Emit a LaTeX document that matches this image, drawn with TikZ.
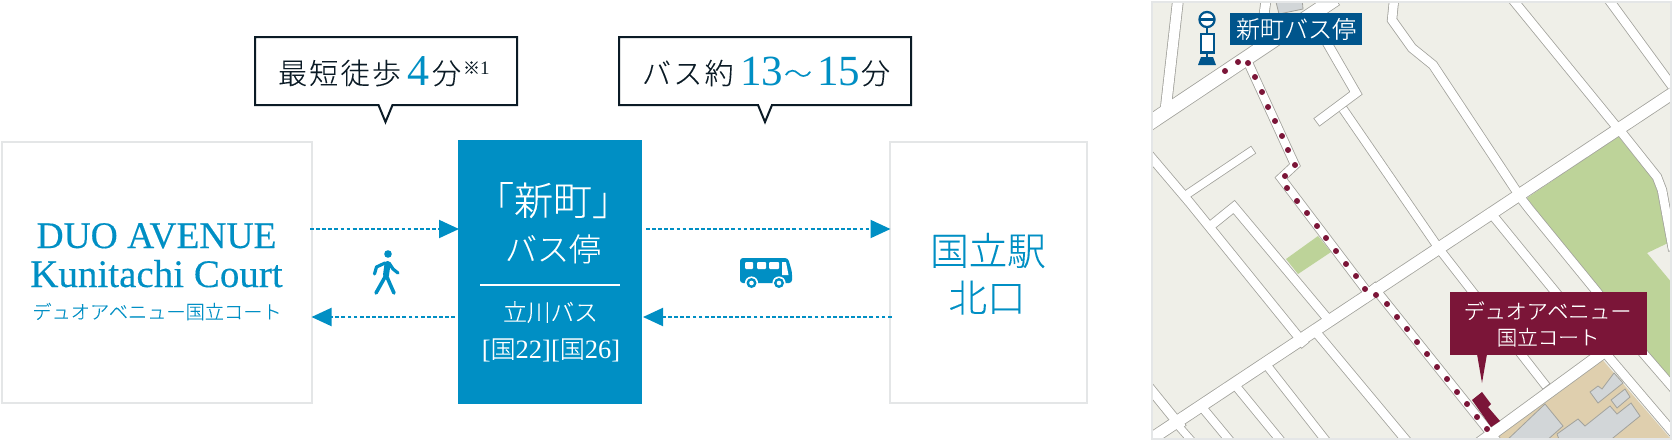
\documentclass[tikz,border=0pt]{standalone}
\usepackage{fontspec}
\usetikzlibrary{arrows.meta}
\setmainfont{Liberation Serif}
\newfontfamily\jp[FakeBold=0.12]{Noto Sans CJK JP Light}
\definecolor{kblue}{HTML}{008FC4}
\definecolor{kdark}{HTML}{0B1B26}
\definecolor{kline}{HTML}{E4E6E7}
\definecolor{kmap}{HTML}{EFEFE8}
\definecolor{kedge}{HTML}{A2A29C}
\definecolor{kgreen}{HTML}{BDD399}
\definecolor{kbeige}{HTML}{DFCFAE}
\definecolor{kbldg}{HTML}{D2D6D8}
\definecolor{kbus}{HTML}{00558C}
\definecolor{kmaroon}{HTML}{7B1538}
\newcommand\fs[1]{\fontsize{#1}{#1}\selectfont}
\newcommand\rd[2]{\draw[line width=#1pt+\rdextra pt,rdcur] #2;}
\newcommand\allroads{%
\rd{14}{(1148,124)--(1335,-1)}
\rd{10}{(1178,0)--(1165,115)}
\rd{9}{(1266,0)--(1262,30)}
\rd{8.5}{(1315,22)--(1356,93)--(1317,122)}
\rd{8}{(1343,109)--(1440,250)--(1546,386)}
\rd{8.5}{(1394,0)--(1392,20)--(1412,48)--(1433,65)--(1523,201)--(1530,210)--(1597,292)--(1643,353)--(1675,390)}
\rd{8.5}{(1513,0)--(1615,125)--(1622,133)--(1657,177)--(1662,190)--(1673,250)}
\rd{8.5}{(1609,0)--(1672,86)}
\rd{11.5}{(1148,441)--(1676,91)}
\rd{8.5}{(1490,212)--(1530,261)--(1607,355)--(1676,436)}
\rd{11}{(1470,450)--(1604,352)}
\rd{8.5}{(1145,150)--(1190,203)--(1305,345)}
\rd{7.5}{(1186,195)--(1253,150)}
\rd{8.5}{(1208,228)--(1234,207)--(1332,324)}
\rd{8.5}{(1315,331)--(1410,445)}
\rd{8}{(1265,363)--(1330,446)}
\rd{8}{(1235,385)--(1285,446)}
\rd{8}{(1201,406)--(1235,447)}
\rd{7}{(1175,422)--(1197,447)}
\rd{9}{(1148,386)--(1182,428)}
\rd{8}{(1246,58)--(1295,165)--(1281,178)--(1372,298)}
\rd{8}{(1372,285)--(1500,445)}
}
\tikzset{
  flow/.style={draw=kblue,line width=2pt,dash pattern=on 3.8pt off 2.3pt,-{Triangle[length=20pt,width=18pt,fill=kblue]}},
  whitebox/.style={draw=kline,line width=2pt,fill=white,inner sep=0,outer sep=1pt},
  txt/.style={inner sep=0,outer sep=0,anchor=base},
  txtw/.style={inner sep=0,outer sep=0,anchor=base west},
  callout/.style={draw=kdark,line width=2pt,fill=white,line join=miter},
  rdcasing/.style={kedge,line join=miter,shorten <=-.8pt,shorten >=-.8pt},
  rdfill/.style={white,line join=miter},
}
\begin{document}
\begin{tikzpicture}[x=1pt,y=-1pt]
\useasboundingbox (0,0) rectangle (1672,440);
\fill[white] (0,0) rectangle (1672,440);
\coordinate (toprow) at (0,229);
\coordinate (botrow) at (0,317);
% boxes
\node[whitebox,minimum width=309.5pt,minimum height=261pt] (duo) at (156.75,272) {};
\node[fill=kblue,inner sep=0,outer sep=0,minimum width=184pt,minimum height=264pt] (stop) at (550,272) {};
\node[whitebox,minimum width=197pt,minimum height=261pt] (station) at (988,272) {};
% callouts
\draw[callout] (255,37)--(517,37)--(517,105)--(392.5,105)--(385.5,122)--(378.5,105)--(255,105)--cycle;
\draw[callout] (619,37)--(911,37)--(911,105)--(772,105)--(765,122)--(758,105)--(619,105)--cycle;
\node[txtw,text=kdark] (c1a) at (278,84) {\jp\fs{29}\addfontfeature{LetterSpace=8}最短徒歩};
\node[txtw,text=kblue] (c1b) at (407,85) {\fs{44}4};
\node[txtw,text=kdark] (c1c) at (432,84) {\jp\fs{29}分};
\node[txtw,text=kdark] (c1d) at (463,74) {\jp\fs{17}※\rmfamily\fs{19}1};
\node[txtw,text=kdark] (c2a) at (642,84) {\jp\fs{29}\addfontfeature{LetterSpace=8}バス約};
\node[txtw,text=kblue] (c2b) at (740,85) {\fs{43}13};
\node[txtw,text=kblue] (c2c) at (784,84) {\jp\fs{28}〜};
\node[txtw,text=kblue] (c2d) at (817,85) {\fs{43}15};
\node[txtw,text=kdark] (c2e) at (861,84) {\jp\fs{29}分};
% DUO text
\node[txt,text=kblue] (d1) at (156.5,248) {\fs{37.5}\addfontfeature{FakeBold=0.3}DUO AVENUE};
\node[txt,text=kblue] (d2) at (156.5,287) {\fs{39}\addfontfeature{FakeBold=0.2}Kunitachi Court};
\node[txt,text=kblue] (d3) at (157,319) {\jp\fs{19.2}デュオアベニュー国立コート};
% stop text
\node[txt,text=white] (s1) at (553,215) {\jp\fs{39}「新町」};
\node[txt,text=white] (s2) at (553,261) {\jp\fs{32}バス停};
\coordinate (ruleL) at (480,285);
\coordinate (ruleR) at (620,285);
\draw[white,line width=1.5pt] (ruleL)--(ruleR);
\node[txt,text=white] (s3) at (550.5,321) {\jp\fs{23.7}立川バス};
\node[txt,text=white] (s4) at (551,358) {\fs{26.5}[{\jp\fs{25}国}22][{\jp\fs{25}国}26]};
% station text
\node[txt,text=kblue] (k1) at (988,265) {\jp\fs{38.5}国立駅};
\node[txt,text=kblue] (k2) at (987,312) {\jp\fs{38.5}北口};
% connectors
\draw[flow,shorten <=-2.5pt,shorten >=-1pt] (duo.east |- toprow) -- (stop.west |- toprow);
\draw[flow,shorten <=3pt,shorten >=-1pt] (stop.west |- botrow) -- (duo.east |- botrow);
\draw[flow,shorten <=4pt,shorten >=-2pt] (stop.east |- toprow) -- (station.west |- toprow);
\draw[flow,shorten <=-3pt,shorten >=1pt] (station.west |- botrow) -- (stop.east |- botrow);
% walker
\fill[kblue] (388,254) circle (3.8pt);
\draw[kblue,line width=6pt,line cap=round] (387.5,264)--(386,275);
\draw[kblue,line width=3.2pt,line cap=round,line join=round] (385,263)--(376.5,267)--(374.5,274);
\draw[kblue,line width=3.2pt,line cap=round,line join=round] (389,263)--(393,269)--(398,273);
\draw[kblue,line width=3.6pt,line cap=round,line join=round] (385,277)--(376,293);
\draw[kblue,line width=3.6pt,line cap=round,line join=round] (387,277)--(390,284)--(394,293);
% bus
\fill[kblue,rounded corners=3pt] (740,283)--(740,258)--(788,258)--(792,272)--(792,283)--cycle;
\fill[white,rounded corners=1pt] (745,262) rectangle (753,269);
\fill[white,rounded corners=1pt] (757,262) rectangle (766,269);
\fill[white,rounded corners=1pt] (769,262) rectangle (779,269);
\fill[white] (782,262)--(786,262)--(788.5,275)--(782,275)--cycle;
\foreach \wx in {751.5,779}{
  \fill[white] (\wx,283) circle (6.6pt);
  \fill[kblue] (\wx,283) circle (5pt);
  \fill[white] (\wx,283) circle (2.3pt);
}
% map
\begin{scope}
\clip (1152,2) rectangle (1670,438);
\fill[kmap] (1152,2) rectangle (1670,438);
\fill[kgreen] (1527,198)--(1618,136)--(1648,173)--(1657,182)--(1668,243)--(1647,253)--(1672,283)--(1672,385)--(1640,350)--cycle;
\fill[kgreen] (1318,236)--(1331,252)--(1298,274)--(1286,259)--cycle;
\filldraw[fill=kbldg,draw=kedge,line width=.8pt] (1275,-2)--(1302,-2)--(1303,9)--(1279,14)--cycle;
\fill[kbeige] (1600,357)--(1676,445)--(1480,445)--cycle;
\begin{scope}[fill=kbldg,draw=kedge,line width=.8pt]
\filldraw (1545,404)--(1563,426)--(1545,442)--(1505,442)--cycle;
\filldraw (1557,434)--(1578,419)--(1585,426)--(1610,406)--(1617,414)--(1631,403)--(1640,416)--(1608,442)--(1560,442)--cycle;
\filldraw (1590,392)--(1598,386)--(1602,389)--(1614,373)--(1623,383)--(1598,403)--cycle;
\filldraw (1611,400)--(1625,389)--(1630,397)--(1617,408)--cycle;
\end{scope}
\def\rdextra{1.6}\tikzset{rdcur/.style={rdcasing}}
\allroads
\def\rdextra{0}\tikzset{rdcur/.style={rdfill}}
\allroads
% building
\fill[kmaroon] (1472,400)--(1482,392)--(1491,404)--(1488,407)--(1500,421)--(1491,427)--cycle;
% dots
\foreach \dx/\dy in {1225/71,1238/62,1248/63,1255/77,1262/92,1268/107,1275/121,1282/136,1288/150,1295/165,1285/176,1287/188,1297/201,1307/213,1317/226,1326/238,1336/251,1346/264,1356/276,1365/289,1376/295,1387/304,1397/317,1407/329,1417/342,1427/354,1437/367,1447/379,1457/392,1467/404,1477/417,1487/429}
  \fill[kmaroon] (\dx,\dy) circle (3pt);
\end{scope}
\draw[kline,line width=2pt] (1152,2) rectangle (1670.5,438.5);
% bus stop label and icon
\node[fill=kbus,inner sep=0,outer sep=0,minimum width=132pt,minimum height=32pt] (lblstop) at (1296,29) {};
\node[txt,text=white] (lblstoptext) at (1296,38) {\jp\fs{24}新町バス停};
\fill[kbus] (1207,19.5) circle (8.7pt);
\fill[white] (1207,19.5) circle (6.3pt);
\fill[kbus] (1199,18) rectangle (1215,21);
\fill[kbus] (1205.8,26) rectangle (1208.4,33);
\filldraw[fill=white,draw=kbus,line width=2.4pt] (1200.7,34) rectangle (1214,52.5);
\fill[kbus] (1205.8,53) rectangle (1208.4,58);
\fill[kbus] (1201,57)--(1213,57)--(1216,65)--(1198,65)--cycle;
% maroon label
\fill[kmaroon] (1477,354)--(1482,383)--(1487,354)--cycle;
\node[fill=kmaroon,inner sep=0,outer sep=0,minimum width=197pt,minimum height=63pt] (lblduo) at (1548.5,323.5) {};
\node[txt,text=white] (lblduo1) at (1547.5,319) {\jp\fs{21}デュオアベニュー};
\node[txt,text=white] (lblduo2) at (1548,345) {\jp\fs{20.5}国立コート};
\end{tikzpicture}
\end{document}
